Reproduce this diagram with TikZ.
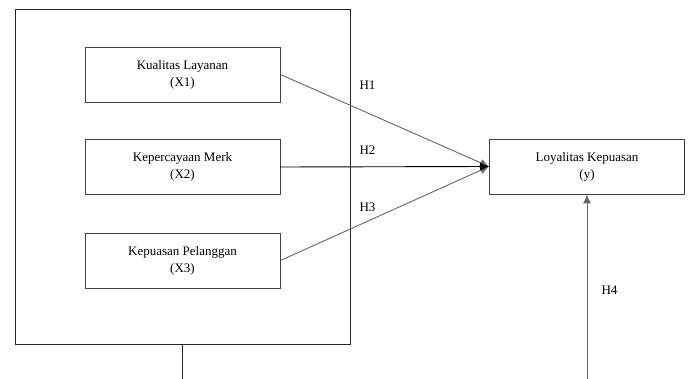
\documentclass[tikz,border=0pt]{standalone}
\usepackage{fontspec}
\setmainfont{Liberation Serif}
\usetikzlibrary{arrows.meta}
\begin{document}
\begin{tikzpicture}[x=1pt, y=-1pt]
	\tikzset{kotak/.style={rectangle, draw=black!75, line width=0.9pt, minimum width=195pt, minimum height=55pt, align=center, font=\fontsize{13}{17}\selectfont},
		label/.style={font=\fontsize{13}{14}\selectfont, inner sep=0pt},
		panah/.style={-{Latex[length=9pt, width=8pt]}, line width=0.9pt}};

	\useasboundingbox (0,0) rectangle (688,379);

	\node[rectangle, draw=black!85, line width=0.9pt, minimum width=335pt, minimum height=335pt] (bingkai) at (182.5, 176.5) {};

	\node[kotak] (x1) at (182.5,  74.5) {Kualitas Layanan\\(X1)};
	\node[kotak] (x2) at (182.5, 167  ) {Kepercayaan Merk\\(X2)};
	\node[kotak] (x3) at (182.5, 260.5) {Kepuasan Pelanggan\\(X3)};
	\node[kotak] (y)  at (587,   166.5) {Loyalitas Kepuasan\\(y)};

	\node[label] (h1) at (367.5,  85) {H1};
	\node[label] (h2) at (367.5, 150) {H2};
	\node[label] (h3) at (367.5, 207) {H3};
	\node[label] (h4) at (609.5, 290) {H4};

	\coordinate (bawah1) at (182.5, 379);
	\coordinate (bawah2) at (587, 379);

	\draw[panah, black!60] (x1.east) -- (y.west);
	\draw[panah, black!60] (x3.east) -- (y.west);
	\draw[panah, black] (x2.east) -- (y.west);
	\draw[black!85, line width=0.9pt] (bingkai.south) -- (bawah1);
	\draw[panah, black!60] (bawah2) -- (y.south);

\end{tikzpicture}
\end{document}
